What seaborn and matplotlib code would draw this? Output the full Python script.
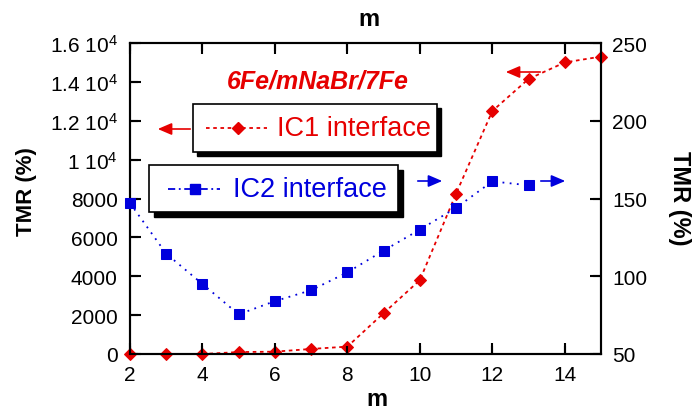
import matplotlib

matplotlib.use("Agg")

import matplotlib.pyplot as plt
import seaborn as sns
from matplotlib.lines import Line2D
from matplotlib.patches import FancyArrowPatch, Rectangle

# data
m_ic1 = [2, 3, 4, 5, 6, 7, 8, 9, 10, 11, 12, 13, 14, 15]
tmr_ic1 = [0, 0, 0, 100, 120, 260, 380, 2100, 3800, 8250, 12500, 14150, 15000, 15300]

m_ic2 = [2, 3, 4, 5, 6, 7, 8, 9, 10, 11, 12, 13]
tmr_ic2 = [147, 114.5, 95, 75.5, 84, 91, 102.5, 116.5, 130, 144, 161, 158.5]

x_ticks = [2, 4, 6, 8, 10, 12, 14]
left_ticks = [0, 2000, 4000, 6000, 8000, 10000, 12000, 14000, 16000]
left_tick_labels = ["0", "2000", "4000", "6000", "8000",
                    "1 10$^4$", "1.2 10$^4$", "1.4 10$^4$", "1.6 10$^4$"]
right_ticks = [50, 100, 150, 200, 250]

title_text = "6Fe/mNaBr/7Fe"
label_ic1 = "IC1 interface"
label_ic2 = "IC2 interface"

RED = "#e60000"
BLUE = "#0000dd"
W, H = 695, 410
AX_W, AX_H = 471, 311  # axes size in pixels
TICK_PX = 8


def fx(x):
    return x / W


def fy(y):
    return 1 - y / H


sns.set_style("ticks")
plt.rcParams["font.family"] = ["Liberation Sans", "DejaVu Sans"]
plt.rcParams["mathtext.default"] = "regular"
plt.rcParams["text.color"] = "black"
plt.rcParams["xtick.color"] = "black"
plt.rcParams["ytick.color"] = "black"
plt.rcParams["axes.edgecolor"] = "black"

fig = plt.figure(figsize=(W / 100, H / 100), dpi=100)
ax = fig.add_axes([fx(130), fy(355), AX_W / W, AX_H / H])
ax2 = ax.twinx()

sns.lineplot(x=m_ic1, y=tmr_ic1, ax=ax, color=RED, marker="D", markersize=6,
             markeredgecolor=RED, linestyle=(0, (2, 2)), linewidth=1.3,
             clip_on=False, zorder=3)
sns.lineplot(x=m_ic2, y=tmr_ic2, ax=ax2, color=BLUE, marker="s", markersize=7,
             markeredgecolor=BLUE, linestyle=(0, (1, 3)), linewidth=1.3,
             clip_on=False, zorder=3)

ax.set_xticks(x_ticks)
ax.set_yticks(left_ticks)
ax.set_yticklabels(left_tick_labels)
ax2.set_yticks(right_ticks)

ax.tick_params(axis="x", direction="in", length=8, width=1.5, top=True,
               labelsize=15, pad=8, colors="black")
ax.tick_params(axis="y", direction="in", length=8, width=1.5, labelsize=15,
               pad=9, colors="black")
ax2.tick_params(axis="y", direction="in", length=8, width=1.5, labelsize=15,
                pad=8, colors="black")

# inward tick marks on all four sides
lx = TICK_PX / AX_H
ly = TICK_PX / AX_W
ax.vlines(x_ticks, 0, lx, transform=ax.get_xaxis_transform(), color="black",
          linewidth=1.5, zorder=4)
ax.vlines(x_ticks, 1 - lx, 1, transform=ax.get_xaxis_transform(),
          color="black", linewidth=1.5, zorder=4)
ax.hlines(left_ticks, 0, ly, transform=ax.get_yaxis_transform(), color="black",
          linewidth=1.5, zorder=4)
ax2.hlines(right_ticks, 1 - ly, 1, transform=ax2.get_yaxis_transform(),
           color="black", linewidth=1.5, zorder=4)

ax.set_xlim(2, 15)
ax.set_ylim(0, 16000)
ax2.set_ylim(50, 250)

for a in (ax, ax2):
    for sp in a.spines.values():
        sp.set_linewidth(1.5)
        sp.set_color("black")
ax.set_xlabel("")
ax.set_ylabel("")
ax2.set_ylabel("")

# axis titles
fig.text(fx(27), fy(192), "TMR (%)", rotation=90, ha="center", va="center",
         fontsize=16, fontweight="bold")
fig.text(fx(680), fy(198), "TMR (%)", rotation=-90, ha="center", va="center",
         fontsize=17, fontweight="bold")
fig.text(fx(377), fy(400), "m", ha="center", va="center", fontsize=17,
         fontweight="bold")
fig.text(fx(369), fy(19), "m", ha="center", va="center", fontsize=17,
         fontweight="bold")

fig.text(fx(318), fy(82), title_text, ha="center", va="center", fontsize=18,
         fontweight="bold", fontstyle="italic", color=RED)


def legend_box(x0, y0, x1, y1, shadow):
    fig.add_artist(Rectangle((fx(x0 + shadow), fy(y1 + shadow)),
                             fx(x1 - x0), (y1 - y0) / H,
                             transform=fig.transFigure, facecolor="black",
                             edgecolor="black", zorder=10))
    fig.add_artist(Rectangle((fx(x0), fy(y1)), fx(x1 - x0), (y1 - y0) / H,
                             transform=fig.transFigure, facecolor="white",
                             edgecolor="black", linewidth=1.2, zorder=11))


def arrow(x0, y0, x1, y1, color):
    fig.add_artist(FancyArrowPatch((fx(x0), fy(y0)), (fx(x1), fy(y1)),
                                   transform=fig.transFigure,
                                   arrowstyle="-|>,head_length=0.7,head_width=0.3",
                                   mutation_scale=12, color=color,
                                   linewidth=1.2, zorder=12))


legend_box(193, 105, 437, 153, 4)
fig.add_artist(Line2D([fx(206), fx(267)], [fy(129), fy(129)],
                      transform=fig.transFigure, color=RED, linewidth=1.3,
                      linestyle=(0, (2, 2)), zorder=12))
fig.add_artist(Line2D([fx(238)], [fy(129)], transform=fig.transFigure,
                      color=RED, marker="D", markersize=6, zorder=12))
fig.text(fx(277), fy(129), label_ic1, ha="left", va="center", fontsize=19.5,
         color=RED, zorder=13)

legend_box(149, 166, 398, 213, 5)
fig.add_artist(Line2D([fx(168), fx(220)], [fy(190), fy(190)],
                      transform=fig.transFigure, color=BLUE, linewidth=1.3,
                      linestyle=(0, (4, 2, 1, 2)), zorder=12))
fig.add_artist(Line2D([fx(195)], [fy(190)], transform=fig.transFigure,
                      color=BLUE, marker="s", markersize=7, zorder=12))
fig.text(fx(233), fy(190), label_ic2, ha="left", va="center", fontsize=19.5,
         color=BLUE, zorder=13)

arrow(193, 130, 155, 130, RED)
arrow(543, 73, 503, 73, RED)
arrow(415, 182, 445, 182, BLUE)
arrow(538, 182, 568, 182, BLUE)

fig.savefig("out.png", dpi=100)
